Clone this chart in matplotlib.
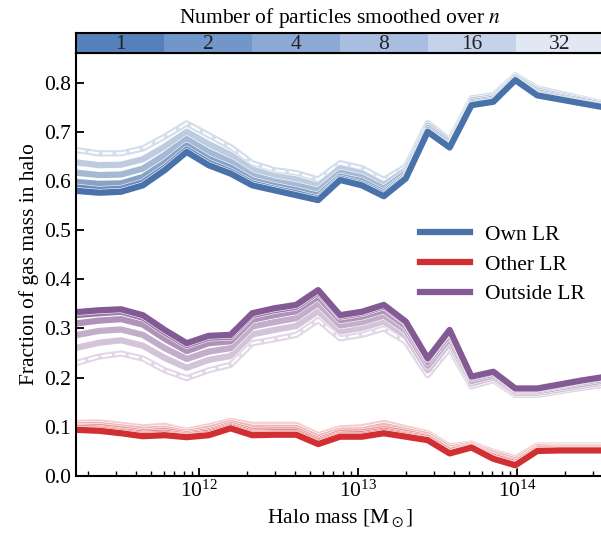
import numpy as np
import matplotlib.pyplot as plt
import matplotlib.patheffects as pe
from matplotlib.colors import to_rgb, ListedColormap
from matplotlib.lines import Line2D

plt.rcParams['font.family'] = 'Liberation Serif'
plt.rcParams['mathtext.fontset'] = 'stix'
plt.rcParams['font.size'] = 15.5

# DATA

# halo mass bins, log10 [Msun]
log_mass = [11.22, 11.371, 11.509, 11.646, 11.784, 11.922, 12.060, 12.198,
            12.335, 12.473, 12.611, 12.749, 12.887, 13.024, 13.162, 13.300,
            13.438, 13.576, 13.713, 13.851, 13.989, 14.127, 14.265, 14.402,
            14.56]

n_values = ['1', '2', '4', '8', '16', '32']

# Own LR, one list per n
own_n1 = [0.580, 0.576, 0.578, 0.591, 0.622, 0.659, 0.632, 0.615, 0.591, 0.581, 0.571, 0.561, 0.602,
          0.591, 0.569, 0.605, 0.700, 0.668, 0.754, 0.761, 0.805, 0.774, 0.766, 0.758, 0.749]
own_n2 = [0.587, 0.582, 0.584, 0.597, 0.627, 0.664, 0.637, 0.619, 0.595, 0.584, 0.575, 0.564, 0.605,
          0.594, 0.572, 0.607, 0.701, 0.669, 0.755, 0.762, 0.806, 0.775, 0.767, 0.759, 0.750]
own_n4 = [0.598, 0.594, 0.595, 0.608, 0.637, 0.672, 0.645, 0.627, 0.601, 0.590, 0.581, 0.570, 0.609,
          0.599, 0.576, 0.610, 0.704, 0.671, 0.757, 0.764, 0.807, 0.777, 0.769, 0.760, 0.751]
own_n8 = [0.617, 0.612, 0.613, 0.625, 0.653, 0.685, 0.659, 0.639, 0.611, 0.599, 0.591, 0.580, 0.617,
          0.607, 0.584, 0.616, 0.708, 0.675, 0.760, 0.767, 0.810, 0.780, 0.771, 0.763, 0.753]
own_n16 = [0.638, 0.632, 0.633, 0.644, 0.670, 0.700, 0.675, 0.653, 0.623, 0.610, 0.603, 0.590, 0.626,
           0.616, 0.592, 0.622, 0.713, 0.679, 0.764, 0.770, 0.812, 0.784, 0.774, 0.765, 0.755]
own_n32 = [0.663, 0.656, 0.656, 0.666, 0.690, 0.717, 0.693, 0.669, 0.636, 0.622, 0.616, 0.603, 0.636,
           0.626, 0.602, 0.629, 0.718, 0.683, 0.768, 0.774, 0.815, 0.788, 0.778, 0.768, 0.757]

# Other LR
other_n1 = [0.094, 0.092, 0.087, 0.081, 0.083, 0.079, 0.083, 0.097, 0.083, 0.084, 0.084, 0.065, 0.080,
            0.080, 0.087, 0.080, 0.073, 0.046, 0.058, 0.035, 0.022, 0.051, 0.052, 0.052, 0.052]
other_n2 = [0.095, 0.094, 0.089, 0.083, 0.085, 0.080, 0.085, 0.099, 0.085, 0.086, 0.086, 0.067, 0.082,
            0.082, 0.089, 0.082, 0.074, 0.047, 0.059, 0.036, 0.023, 0.052, 0.053, 0.053, 0.053]
other_n4 = [0.098, 0.096, 0.091, 0.086, 0.088, 0.082, 0.088, 0.101, 0.088, 0.089, 0.089, 0.070, 0.084,
            0.085, 0.092, 0.084, 0.077, 0.050, 0.060, 0.039, 0.026, 0.054, 0.055, 0.055, 0.055]
other_n8 = [0.100, 0.100, 0.095, 0.089, 0.092, 0.085, 0.091, 0.104, 0.092, 0.093, 0.093, 0.073, 0.088,
            0.089, 0.096, 0.088, 0.079, 0.052, 0.062, 0.041, 0.028, 0.056, 0.057, 0.057, 0.057]
other_n16 = [0.104, 0.104, 0.099, 0.094, 0.096, 0.088, 0.096, 0.108, 0.098, 0.098, 0.098, 0.078, 0.092,
             0.093, 0.102, 0.092, 0.083, 0.056, 0.064, 0.045, 0.032, 0.059, 0.059, 0.059, 0.059]
other_n32 = [0.108, 0.109, 0.104, 0.099, 0.102, 0.092, 0.101, 0.112, 0.104, 0.104, 0.104, 0.083, 0.097,
             0.099, 0.108, 0.097, 0.087, 0.060, 0.066, 0.049, 0.036, 0.062, 0.062, 0.062, 0.062]

# Outside LR
outside_n1 = [0.333, 0.337, 0.339, 0.327, 0.297, 0.270, 0.285, 0.287, 0.331, 0.341, 0.348, 0.378, 0.327,
              0.334, 0.348, 0.314, 0.239, 0.297, 0.202, 0.212, 0.178, 0.178, 0.186, 0.194, 0.202]
outside_n2 = [0.327, 0.331, 0.334, 0.322, 0.292, 0.266, 0.281, 0.283, 0.327, 0.337, 0.344, 0.374, 0.324,
              0.331, 0.345, 0.312, 0.237, 0.295, 0.201, 0.211, 0.177, 0.177, 0.185, 0.193, 0.201]
outside_n4 = [0.310, 0.316, 0.319, 0.308, 0.279, 0.254, 0.270, 0.274, 0.318, 0.327, 0.335, 0.365, 0.317,
              0.324, 0.337, 0.305, 0.232, 0.289, 0.198, 0.208, 0.175, 0.175, 0.183, 0.191, 0.198]
outside_n8 = [0.286, 0.295, 0.298, 0.287, 0.260, 0.238, 0.253, 0.260, 0.304, 0.313, 0.321, 0.351, 0.306,
              0.313, 0.326, 0.296, 0.224, 0.280, 0.193, 0.204, 0.172, 0.172, 0.180, 0.187, 0.195]
outside_n16 = [0.260, 0.271, 0.276, 0.265, 0.240, 0.220, 0.236, 0.244, 0.288, 0.297, 0.305, 0.335, 0.294,
               0.301, 0.314, 0.285, 0.215, 0.271, 0.188, 0.200, 0.169, 0.169, 0.176, 0.183, 0.191]
outside_n32 = [0.229, 0.243, 0.249, 0.239, 0.215, 0.199, 0.215, 0.226, 0.270, 0.278, 0.287, 0.317, 0.280,
               0.287, 0.300, 0.273, 0.205, 0.260, 0.182, 0.195, 0.165, 0.165, 0.172, 0.179, 0.186]

own = [own_n1, own_n2, own_n4, own_n8, own_n16, own_n32]
other = [other_n1, other_n2, other_n4, other_n8, other_n16, other_n32]
outside = [outside_n1, outside_n2, outside_n4, outside_n8, outside_n16, outside_n32]

# STYLE

blue = '#4a72aa'
red = '#d22f33'
purple = '#845a95'
strength = [1.0, 0.82, 0.66, 0.5, 0.36, 0.24]
bar_colors = ['#5680bc', '#7196c9', '#8ca9d5', '#a8bee1', '#c5d3ea', '#e2e8f3']


def shade(c, a):
    r = np.array(to_rgb(c))
    return tuple(1 - a * (1 - r))


mass = 10 ** np.array(log_mass)

fig = plt.figure(figsize=(6.01, 5.38), dpi=100)
ax = fig.add_axes([0.1265, 0.1152, 0.878, 0.7862])

lw = 4.5
for group, base in [(own, blue), (outside, purple), (other, red)]:
    for i in range(5, -1, -1):
        ax.plot(mass, group[i], color=shade(base, strength[i]), lw=lw,
                path_effects=[pe.Stroke(linewidth=lw + 0.8, foreground='white'), pe.Normal()])
        if i == 5:
            ax.plot(mass, group[i], color='white', lw=1.5, ls=(0, (5, 1.6)))

ax.set_xscale('log')
ax.set_xlim(10 ** 11.226, 10 ** 14.545)
ax.set_ylim(0, 0.86)
ax.set_yticks(np.arange(0, 0.81, 0.1))
ax.set_xlabel(r'Halo mass [$\mathrm{M}_\odot$]')
ax.set_ylabel('Fraction of gas mass in halo')

ax.tick_params(which='major', direction='in', length=6, width=1.3, top=False, right=False)
ax.tick_params(which='minor', direction='in', length=3.5, width=1.0, top=False, right=False)
for s in ax.spines.values():
    s.set_linewidth(1.5)
ax.spines['right'].set_visible(False)

handles = [Line2D([], [], color=c, lw=lw) for c in (blue, red, purple)]
ax.legend(handles, ['Own LR', 'Other LR', 'Outside LR'], loc='center right',
          bbox_to_anchor=(0.98, 0.5), frameon=False, handlelength=2.3,
          handletextpad=0.7, labelspacing=0.45, borderaxespad=0)

# colour bar for n on top
cax = fig.add_axes([0.1265, 0.9015, 0.878, 0.037])
cax.imshow(np.arange(6)[None, :], cmap=ListedColormap(bar_colors), aspect='auto',
           extent=(0, 6, 0, 1))
for i, lab in enumerate(n_values):
    cax.text(i + 0.5, 0.45, lab, ha='center', va='center', color='#222222')
cax.set_xticks([])
cax.set_yticks([])
for s in cax.spines.values():
    s.set_linewidth(1.5)

fig.text(0.5657, 0.966, 'Number of particles smoothed over $n$', ha='center', va='center')

plt.savefig('out.png', dpi=100)
